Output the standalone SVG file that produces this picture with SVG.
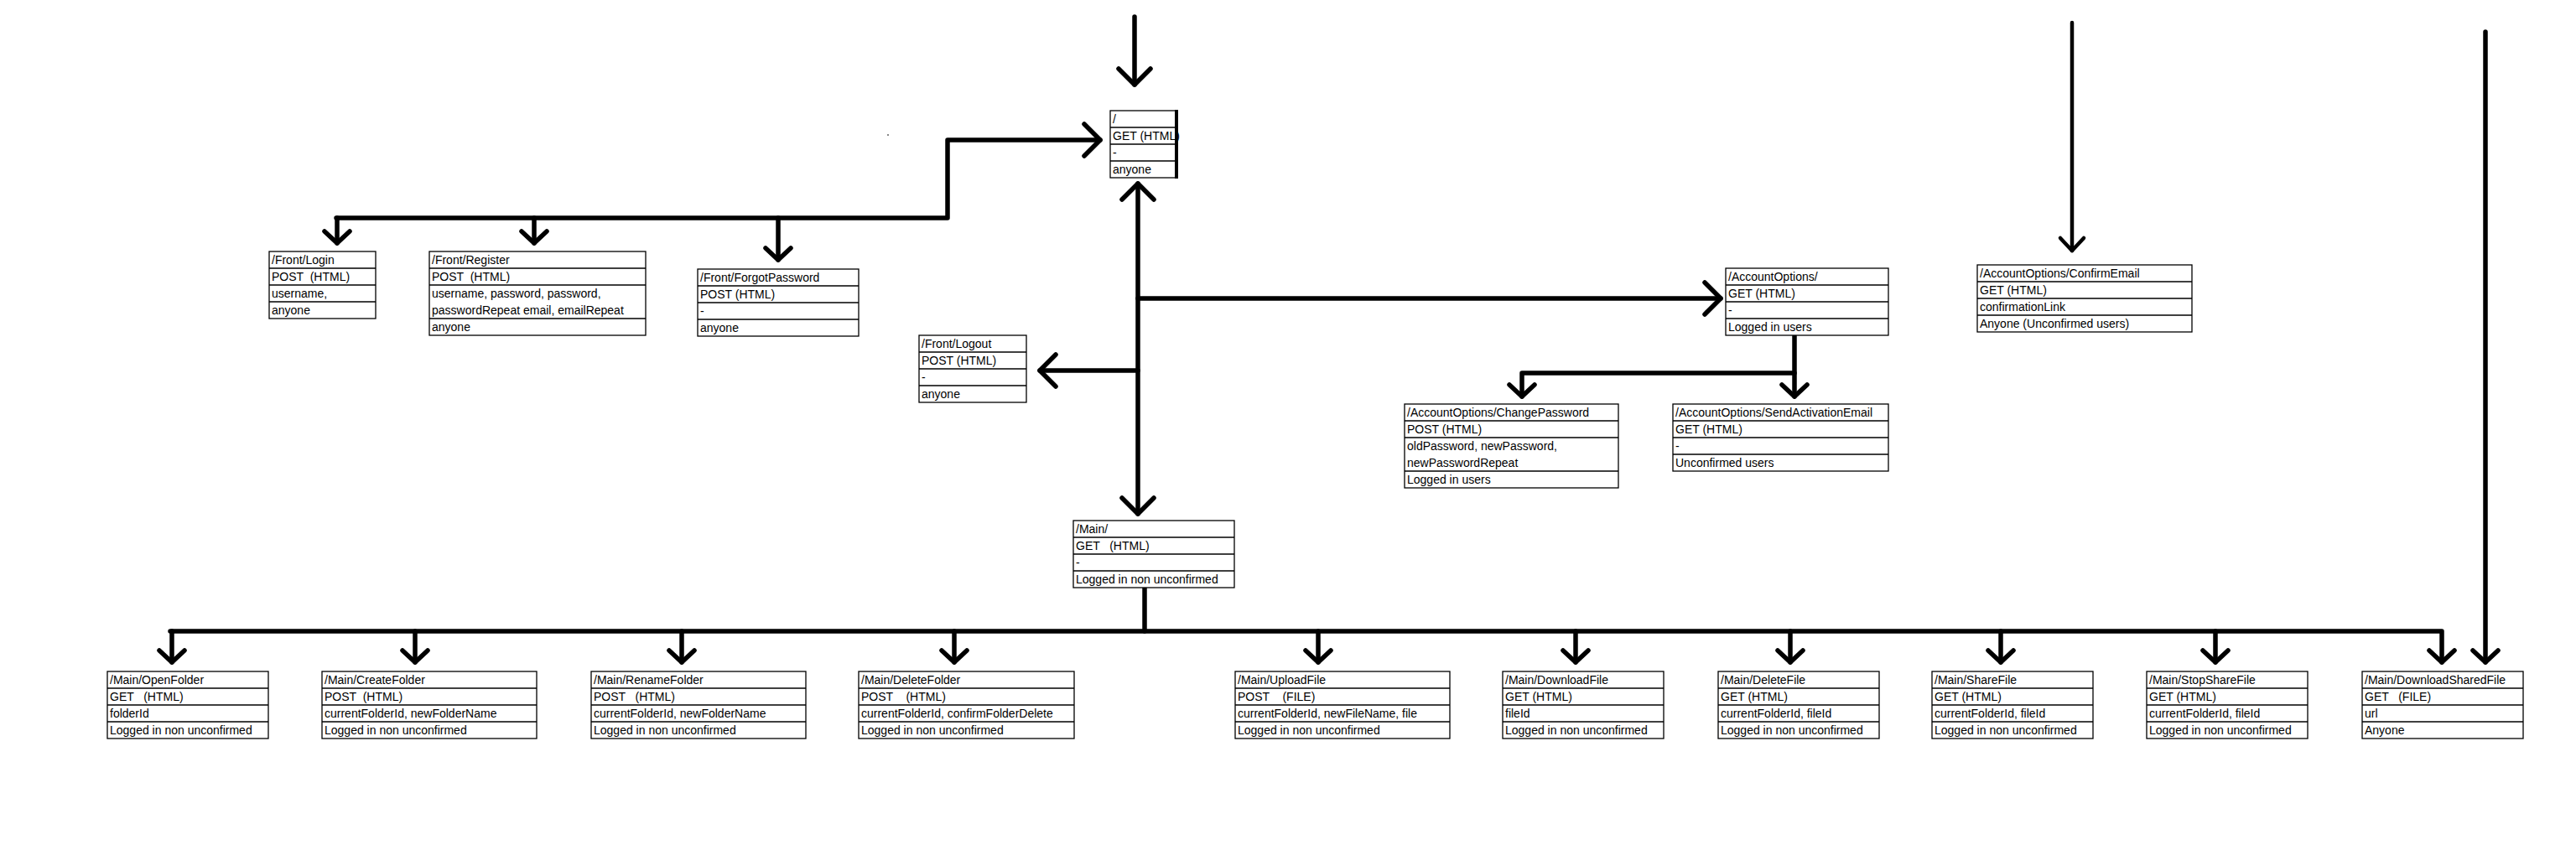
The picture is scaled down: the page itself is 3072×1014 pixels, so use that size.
<svg xmlns="http://www.w3.org/2000/svg" width="3072" height="1014" viewBox="0 0 3072 1014">
<style>
.box{fill:#fff;stroke:#000;stroke-width:1.3}
.sep{fill:none;stroke:#000;stroke-width:1.3}
text{font-family:"Liberation Sans",Arial,sans-serif;font-size:14px;fill:#000;white-space:pre}
.c{fill:none;stroke:#000;stroke-width:5.5;stroke-linecap:round;stroke-linejoin:round}
.thin{stroke-width:4.5}
</style>
<defs>
<marker id="ah" viewBox="-30 -30 40 60" refX="0" refY="0" markerWidth="40" markerHeight="60" markerUnits="userSpaceOnUse" orient="auto-start-reverse">
<path d="M-19,-19 L0,0 L-19,19" fill="none" stroke="#000" stroke-width="5.5" stroke-linecap="round" stroke-linejoin="round"/>
</marker>
<marker id="as" viewBox="-30 -30 40 60" refX="0" refY="0" markerWidth="40" markerHeight="60" markerUnits="userSpaceOnUse" orient="auto">
<path d="M-14,-15 L0,0 L-14,15" fill="none" stroke="#000" stroke-width="5.5" stroke-linecap="round" stroke-linejoin="round"/>
</marker>
<marker id="at" viewBox="-30 -30 40 60" refX="0" refY="0" markerWidth="40" markerHeight="60" markerUnits="userSpaceOnUse" orient="auto">
<path d="M-15,-14 L0,0 L-15,14" fill="none" stroke="#000" stroke-width="4.5" stroke-linecap="round" stroke-linejoin="round"/>
</marker>
</defs>
<rect width="3072" height="1014" fill="#fff"/>

<g id="connectors">
<path class="c" d="M1353,20 V101" marker-end="url(#ah)"/>
<path class="c" d="M401,260 H1130 V167 H1312" marker-end="url(#ah)"/>
<path class="c" d="M402,260 V290" marker-end="url(#as)"/>
<path class="c" d="M637,260 V290" marker-end="url(#as)"/>
<path class="c" d="M928,260 V310" marker-end="url(#as)"/>
<path class="c" d="M1357,219 V613" marker-start="url(#ah)" marker-end="url(#ah)"/>
<path class="c" d="M1357,442 H1240" marker-end="url(#ah)"/>
<path class="c" d="M1357,356 H2052" marker-end="url(#ah)"/>
<path class="c" d="M2140,401 V473" marker-end="url(#as)"/>
<path class="c" d="M2140,445 H1815 V473" marker-end="url(#as)"/>
<path class="c thin" d="M2471,27 V299" marker-end="url(#at)"/>
<path class="c" d="M1365,701 V753"/>
<path class="c" d="M203,753 H2912 V790" marker-end="url(#as)"/>
<path class="c" d="M205,753 V790" marker-end="url(#as)"/>
<path class="c" d="M495,753 V790" marker-end="url(#as)"/>
<path class="c" d="M813,753 V790" marker-end="url(#as)"/>
<path class="c" d="M1138,753 V790" marker-end="url(#as)"/>
<path class="c" d="M1572,753 V790" marker-end="url(#as)"/>
<path class="c" d="M1879,753 V790" marker-end="url(#as)"/>
<path class="c" d="M2135,753 V790" marker-end="url(#as)"/>
<path class="c" d="M2386,753 V790" marker-end="url(#as)"/>
<path class="c" d="M2642,753 V790" marker-end="url(#as)"/>
<path class="c" d="M2964,38 V790" marker-end="url(#as)"/>
</g>

<rect x="1058" y="160" width="2" height="2" fill="#888"/>

<g id="n-root">
<rect class="box" x="1324" y="132" width="80" height="80"/>
<path class="sep" d="M1324,152H1404M1324,172H1404M1324,192H1404"/>
<line x1="1403" y1="131" x2="1403" y2="213" stroke="#000" stroke-width="4"/>
<text x="1327" y="147">/</text>
<text x="1327" y="167">GET (HTML)</text>
<text x="1327" y="187">-</text>
<text x="1327" y="207">anyone</text>
</g>

<g id="n-login">
<rect class="box" x="321" y="300" width="127" height="80"/>
<path class="sep" d="M321,320H448M321,340H448M321,360H448"/>
<text x="324" y="315">/Front/Login</text>
<text x="324" y="335">POST  (HTML)</text>
<text x="324" y="355">username,</text>
<text x="324" y="375">anyone</text>
</g>

<g id="n-register">
<rect class="box" x="512" y="300" width="258" height="100"/>
<path class="sep" d="M512,320H770M512,340H770M512,380H770"/>
<text x="515" y="315">/Front/Register</text>
<text x="515" y="335">POST  (HTML)</text>
<text x="515" y="355">username, password, password,</text>
<text x="515" y="375">passwordRepeat email, emailRepeat</text>
<text x="515" y="395">anyone</text>
</g>

<g id="n-forgot">
<rect class="box" x="832" y="321" width="192" height="80"/>
<path class="sep" d="M832,341H1024M832,361H1024M832,381H1024"/>
<text x="835" y="336">/Front/ForgotPassword</text>
<text x="835" y="356">POST (HTML)</text>
<text x="835" y="376">-</text>
<text x="835" y="396">anyone</text>
</g>

<g id="n-logout">
<rect class="box" x="1096" y="400" width="128" height="80"/>
<path class="sep" d="M1096,420H1224M1096,440H1224M1096,460H1224"/>
<text x="1099" y="415">/Front/Logout</text>
<text x="1099" y="435">POST (HTML)</text>
<text x="1099" y="455">-</text>
<text x="1099" y="475">anyone</text>
</g>

<g id="n-accountoptions">
<rect class="box" x="2058" y="320" width="194" height="80"/>
<path class="sep" d="M2058,340H2252M2058,360H2252M2058,380H2252"/>
<text x="2061" y="335">/AccountOptions/</text>
<text x="2061" y="355">GET (HTML)</text>
<text x="2061" y="375">-</text>
<text x="2061" y="395">Logged in users</text>
</g>

<g id="n-confirmemail">
<rect class="box" x="2358" y="316" width="256" height="80"/>
<path class="sep" d="M2358,336H2614M2358,356H2614M2358,376H2614"/>
<text x="2361" y="331">/AccountOptions/ConfirmEmail</text>
<text x="2361" y="351">GET (HTML)</text>
<text x="2361" y="371">confirmationLink</text>
<text x="2361" y="391">Anyone (Unconfirmed users)</text>
</g>

<g id="n-changepassword">
<rect class="box" x="1675" y="482" width="255" height="100"/>
<path class="sep" d="M1675,502H1930M1675,522H1930M1675,562H1930"/>
<text x="1678" y="497">/AccountOptions/ChangePassword</text>
<text x="1678" y="517">POST (HTML)</text>
<text x="1678" y="537">oldPassword, newPassword,</text>
<text x="1678" y="557">newPasswordRepeat</text>
<text x="1678" y="577">Logged in users</text>
</g>

<g id="n-sendactivation">
<rect class="box" x="1995" y="482" width="257" height="80"/>
<path class="sep" d="M1995,502H2252M1995,522H2252M1995,542H2252"/>
<text x="1998" y="497">/AccountOptions/SendActivationEmail</text>
<text x="1998" y="517">GET (HTML)</text>
<text x="1998" y="537">-</text>
<text x="1998" y="557">Unconfirmed users</text>
</g>

<g id="n-main">
<rect class="box" x="1280" y="621" width="192" height="80"/>
<path class="sep" d="M1280,641H1472M1280,661H1472M1280,681H1472"/>
<text x="1283" y="636">/Main/</text>
<text x="1283" y="656">GET   (HTML)</text>
<text x="1283" y="676">-</text>
<text x="1283" y="696">Logged in non unconfirmed</text>
</g>

<g id="n-openfolder">
<rect class="box" x="128" y="801" width="192" height="80"/>
<path class="sep" d="M128,821H320M128,841H320M128,861H320"/>
<text x="131" y="816">/Main/OpenFolder</text>
<text x="131" y="836">GET   (HTML)</text>
<text x="131" y="856">folderId</text>
<text x="131" y="876">Logged in non unconfirmed</text>
</g>

<g id="n-createfolder">
<rect class="box" x="384" y="801" width="256" height="80"/>
<path class="sep" d="M384,821H640M384,841H640M384,861H640"/>
<text x="387" y="816">/Main/CreateFolder</text>
<text x="387" y="836">POST  (HTML)</text>
<text x="387" y="856">currentFolderId, newFolderName</text>
<text x="387" y="876">Logged in non unconfirmed</text>
</g>

<g id="n-renamefolder">
<rect class="box" x="705" y="801" width="256" height="80"/>
<path class="sep" d="M705,821H961M705,841H961M705,861H961"/>
<text x="708" y="816">/Main/RenameFolder</text>
<text x="708" y="836">POST   (HTML)</text>
<text x="708" y="856">currentFolderId, newFolderName</text>
<text x="708" y="876">Logged in non unconfirmed</text>
</g>

<g id="n-deletefolder">
<rect class="box" x="1024" y="801" width="257" height="80"/>
<path class="sep" d="M1024,821H1281M1024,841H1281M1024,861H1281"/>
<text x="1027" y="816">/Main/DeleteFolder</text>
<text x="1027" y="836">POST    (HTML)</text>
<text x="1027" y="856">currentFolderId, confirmFolderDelete</text>
<text x="1027" y="876">Logged in non unconfirmed</text>
</g>

<g id="n-uploadfile">
<rect class="box" x="1473" y="801" width="256" height="80"/>
<path class="sep" d="M1473,821H1729M1473,841H1729M1473,861H1729"/>
<text x="1476" y="816">/Main/UploadFile</text>
<text x="1476" y="836">POST    (FILE)</text>
<text x="1476" y="856">currentFolderId, newFileName, file</text>
<text x="1476" y="876">Logged in non unconfirmed</text>
</g>

<g id="n-downloadfile">
<rect class="box" x="1792" y="801" width="192" height="80"/>
<path class="sep" d="M1792,821H1984M1792,841H1984M1792,861H1984"/>
<text x="1795" y="816">/Main/DownloadFile</text>
<text x="1795" y="836">GET (HTML)</text>
<text x="1795" y="856">fileId</text>
<text x="1795" y="876">Logged in non unconfirmed</text>
</g>

<g id="n-deletefile">
<rect class="box" x="2049" y="801" width="192" height="80"/>
<path class="sep" d="M2049,821H2241M2049,841H2241M2049,861H2241"/>
<text x="2052" y="816">/Main/DeleteFile</text>
<text x="2052" y="836">GET (HTML)</text>
<text x="2052" y="856">currentFolderId, fileId</text>
<text x="2052" y="876">Logged in non unconfirmed</text>
</g>

<g id="n-sharefile">
<rect class="box" x="2304" y="801" width="192" height="80"/>
<path class="sep" d="M2304,821H2496M2304,841H2496M2304,861H2496"/>
<text x="2307" y="816">/Main/ShareFile</text>
<text x="2307" y="836">GET (HTML)</text>
<text x="2307" y="856">currentFolderId, fileId</text>
<text x="2307" y="876">Logged in non unconfirmed</text>
</g>

<g id="n-stopsharefile">
<rect class="box" x="2560" y="801" width="192" height="80"/>
<path class="sep" d="M2560,821H2752M2560,841H2752M2560,861H2752"/>
<text x="2563" y="816">/Main/StopShareFile</text>
<text x="2563" y="836">GET (HTML)</text>
<text x="2563" y="856">currentFolderId, fileId</text>
<text x="2563" y="876">Logged in non unconfirmed</text>
</g>

<g id="n-downloadsharedfile">
<rect class="box" x="2817" y="801" width="192" height="80"/>
<path class="sep" d="M2817,821H3009M2817,841H3009M2817,861H3009"/>
<text x="2820" y="816">/Main/DownloadSharedFile</text>
<text x="2820" y="836">GET   (FILE)</text>
<text x="2820" y="856">url</text>
<text x="2820" y="876">Anyone</text>
</g>
</svg>
